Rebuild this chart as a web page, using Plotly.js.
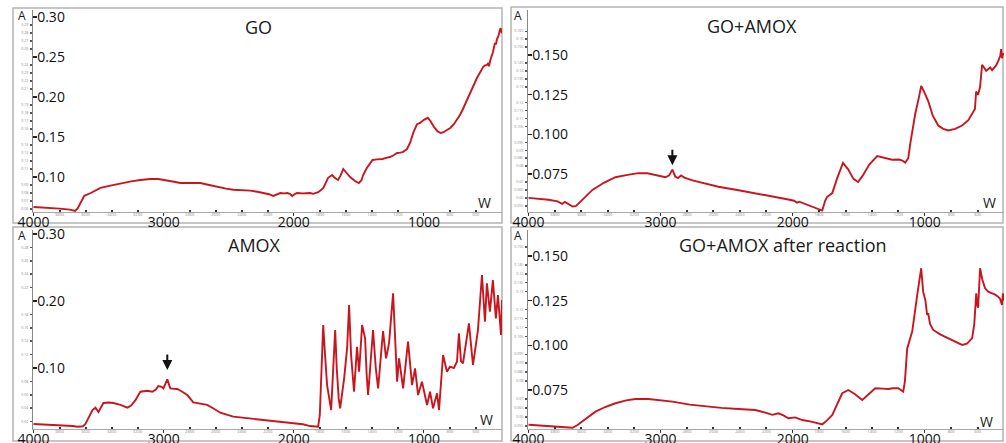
<!DOCTYPE html>
<html>
<head>
<meta charset="utf-8">
<script src="https://cdn.plot.ly/plotly-3.0.1.min.js"></script>
<style>
html,body{margin:0;padding:0;background:#fff;}
#chart{width:1006px;height:443px;}
</style>
</head>
<body>
<div id="chart"></div>
<script>
// ---------- DATA ----------
const panelTitles = ["GO", "GO+AMOX", "AMOX", "GO+AMOX after reaction"];

const goWavenumber = [4000,3900,3800,3720,3680,3660,3640,3610,3560,3486,3400,3332,3250,3180,3102,3040,2972,2920,2872,2800,2718,2650,2588,2520,2465,2400,2335,2280,2235,2190,2158,2130,2104,2075,2050,2030,2012,1990,1974,1930,1874,1851,1812,1774,1750,1736,1705,1685,1660,1640,1620,1600,1567,1530,1500,1480,1467,1440,1414,1395,1360,1318,1290,1260,1230,1206,1180,1160,1130,1107,1080,1053,1030,1000,970,950,920,895,871,850,820,800,770,745,723,700,669,630,592,560,546,530,516,505,500,490,470,454,446,439,428,416,410,405,400];
const goAbsorbance = [0.0625,0.0617,0.0605,0.0592,0.0576,0.0610,0.0680,0.0765,0.0800,0.0865,0.0895,0.0920,0.0945,0.0962,0.0975,0.0975,0.0960,0.0940,0.0925,0.0928,0.0925,0.0900,0.0875,0.0855,0.0840,0.0836,0.0830,0.0815,0.0800,0.0785,0.0763,0.0785,0.0800,0.0795,0.0800,0.0790,0.0763,0.0790,0.0800,0.0795,0.0800,0.0790,0.0810,0.0860,0.0950,0.0990,0.1025,0.0990,0.0963,0.1020,0.1100,0.1060,0.1000,0.0950,0.0925,0.0960,0.1025,0.1110,0.1175,0.1213,0.1220,0.1225,0.1240,0.1250,0.1275,0.1300,0.1305,0.1315,0.1350,0.1425,0.1560,0.1660,0.1675,0.1715,0.1740,0.1700,0.1620,0.1570,0.1550,0.1560,0.1590,0.1610,0.1660,0.1720,0.1775,0.1850,0.1960,0.2100,0.2240,0.2330,0.2375,0.2395,0.2400,0.2425,0.2385,0.2460,0.2560,0.2675,0.2660,0.2720,0.2760,0.2840,0.2860,0.2810,0.2800];

const goAmoxWavenumber = [4000,3900,3849,3780,3745,3725,3700,3666,3640,3607,3560,3516,3430,3342,3250,3168,3100,3039,2963,2935,2911,2889,2867,2845,2820,2759,2660,2563,2420,2283,2150,2033,1990,1968,1950,1880,1820,1776,1755,1740,1700,1665,1619,1580,1540,1505,1470,1420,1360,1300,1247,1195,1170,1148,1125,1110,1072,1045,1027,1000,974,940,898,860,822,770,717,670,634,620,611,596,581,566,550,535,520,505,490,475,460,445,435,428,422,415,408,400];
const goAmoxAbsorbance = [0.0600,0.0594,0.0588,0.0578,0.0562,0.0575,0.0562,0.0545,0.0550,0.0575,0.0615,0.0650,0.0695,0.0730,0.0745,0.0756,0.0755,0.0745,0.0730,0.0742,0.0778,0.0735,0.0725,0.0742,0.0728,0.0710,0.0690,0.0670,0.0650,0.0630,0.0610,0.0590,0.0582,0.0570,0.0576,0.0555,0.0535,0.0520,0.0580,0.0605,0.0630,0.0720,0.0820,0.0780,0.0720,0.0700,0.0740,0.0810,0.0863,0.0850,0.0840,0.0842,0.0835,0.0822,0.0850,0.0940,0.1130,0.1230,0.1306,0.1260,0.1210,0.1120,0.1056,0.1035,0.1025,0.1035,0.1056,0.1090,0.1140,0.1160,0.1270,0.1250,0.1300,0.1438,0.1420,0.1400,0.1410,0.1422,0.1405,0.1420,0.1435,0.1460,0.1475,0.1495,0.1538,0.1480,0.1510,0.1500];

const amoxWavenumber = [4000,3900,3793,3700,3662,3620,3601,3578,3547,3524,3501,3463,3420,3386,3332,3279,3250,3217,3179,3125,3087,3060,3041,3015,3002,2972,2949,2920,2895,2860,2818,2772,2720,2665,2620,2565,2465,2400,2335,2250,2160,2081,2000,1930,1874,1813,1800,1790,1774,1760,1744,1713,1700,1682,1670,1655,1644,1613,1590,1575,1560,1537,1514,1498,1475,1452,1440,1429,1391,1370,1352,1314,1291,1268,1237,1220,1206,1191,1160,1122,1091,1068,1045,1015,976,953,930,899,884,853,823,800,770,746,731,715,700,654,623,585,554,531,516,493,470,447,431,408,400];
const amoxAbsorbance = [0.0164,0.0158,0.0150,0.0135,0.0124,0.0130,0.0164,0.0254,0.0373,0.0408,0.0343,0.0478,0.0485,0.0478,0.0450,0.0408,0.0440,0.0520,0.0646,0.0660,0.0646,0.0680,0.0731,0.0720,0.0697,0.0831,0.0697,0.0690,0.0687,0.0650,0.0597,0.0488,0.0470,0.0450,0.0400,0.0333,0.0274,0.0260,0.0249,0.0230,0.0215,0.0199,0.0180,0.0160,0.0134,0.0124,0.0300,0.0746,0.1642,0.1200,0.0746,0.0373,0.0800,0.1567,0.1000,0.0550,0.0398,0.0846,0.1300,0.1940,0.1200,0.0646,0.1318,0.0945,0.1642,0.1443,0.0900,0.0597,0.1567,0.1000,0.0697,0.1552,0.1144,0.1368,0.2115,0.1300,0.0796,0.1144,0.0697,0.1393,0.0746,0.0995,0.0597,0.0796,0.0448,0.0646,0.0398,0.0622,0.0373,0.1194,0.0945,0.1020,0.1000,0.1094,0.1518,0.1100,0.1070,0.1667,0.1045,0.1567,0.2388,0.1691,0.2264,0.1840,0.2313,0.1742,0.2090,0.1493,0.2015];

const afterWavenumber = [4000,3900,3849,3760,3667,3629,3560,3493,3420,3342,3260,3191,3092,3000,2911,2780,2661,2540,2412,2283,2200,2154,2109,2070,2033,1980,1927,1850,1776,1740,1700,1660,1625,1579,1530,1473,1420,1375,1320,1277,1240,1201,1163,1150,1133,1095,1057,1040,1027,1012,995,982,974,960,936,880,823,770,717,680,641,625,619,610,604,596,581,565,543,520,490,470,445,430,415,408,400];
const afterAbsorbance = [0.0556,0.0552,0.0549,0.0545,0.0539,0.0554,0.0590,0.0629,0.0655,0.0676,0.0692,0.0700,0.0700,0.0694,0.0685,0.0668,0.0657,0.0650,0.0644,0.0638,0.0622,0.0611,0.0620,0.0608,0.0592,0.0597,0.0582,0.0572,0.0558,0.0580,0.0611,0.0680,0.0732,0.0750,0.0728,0.0694,0.0730,0.0760,0.0758,0.0756,0.0760,0.0760,0.0741,0.0800,0.0983,0.1077,0.1282,0.1360,0.1431,0.1300,0.1250,0.1170,0.1180,0.1120,0.1086,0.1060,0.1040,0.1020,0.1002,0.1010,0.1040,0.1120,0.1207,0.1291,0.1230,0.1210,0.1431,0.1370,0.1319,0.1300,0.1291,0.1285,0.1272,0.1260,0.1226,0.1291,0.1250];

// tick labels
const xMajorTicks = [4000, 3000, 2000, 1000];
const xMajorLabels = ["4000", "3000", "2000", "1000"];
const xMinorTicks = [3800,3600,3400,3200,2800,2600,2400,2200,1800,1600,1400,1200,800,600];
const xMinorLabels = ["3800","3600","3400","3200","2800","2600","2400","2200","1800","1600","1400","1200","800","600"];

const goYMajor = [0.10, 0.15, 0.20, 0.25, 0.30];
const goYMajorLabels = ["0.10", "0.15", "0.20", "0.25", "0.30"];
const goYMinor = [0.06,0.07,0.08,0.09,0.11,0.12,0.13,0.14,0.16,0.17,0.18,0.19,0.21,0.22,0.23,0.24,0.26,0.27,0.28,0.29];

const goAmoxYMajor = [0.075, 0.100, 0.125, 0.150];
const goAmoxYMajorLabels = ["0.075", "0.100", "0.125", "0.150"];
const goAmoxYMinor = [0.055,0.060,0.065,0.070,0.080,0.085,0.090,0.095,0.105,0.110,0.115,0.120,0.130,0.135,0.140,0.145,0.155,0.160,0.165];

const amoxYMajor = [0.10, 0.20, 0.30];
const amoxYMajorLabels = ["0.10", "0.20", "0.30"];
const amoxYMinor = [0.02,0.04,0.06,0.08,0.12,0.14,0.16,0.18,0.22,0.24,0.26,0.28];

const afterYMajor = [0.075, 0.100, 0.125, 0.150];
const afterYMajorLabels = ["0.075", "0.100", "0.125", "0.150"];
const afterYMinor = [0.055,0.060,0.065,0.070,0.080,0.085,0.090,0.095,0.105,0.110,0.115,0.120,0.130,0.135,0.140,0.145,0.155];

// ---------- LAYOUT ----------
const W = 1006, H = 443;
const px = x => x / W;
const py = y => 1 - y / H;
const FONT = "Open Sans, Liberation Sans, sans-serif";
const LINE = "#c8161e";
const X_RANGE = [4004, 400];

const panels = [
  {x: goWavenumber, y: goAbsorbance, yMaj: goYMajor, yMajL: goYMajorLabels, yMin: goYMinor,
   xd: [px(33), px(502)], yd: [py(212), py(10)], yr: [0.05625, 0.30875],
   frame: [13, 8, 502, 223], title: [258, 27], A: [22, 15], Wl: [484, 202]},
  {x: goAmoxWavenumber, y: goAmoxAbsorbance, yMaj: goAmoxYMajor, yMajL: goAmoxYMajorLabels, yMin: goAmoxYMinor,
   xd: [px(528), px(1004)], yd: [py(212), py(10)], yr: [0.0511, 0.1784],
   frame: [511, 7, 1003, 223], title: [752, 26], A: [518, 15], Wl: [989, 202]},
  {x: amoxWavenumber, y: amoxAbsorbance, yMaj: amoxYMajor, yMajL: amoxYMajorLabels, yMin: amoxYMinor,
   xd: [px(33), px(502)], yd: [py(429), py(230)], yr: [0.009, 0.306],
   frame: [13, 227, 502, 441], title: [254, 245], A: [22, 235], Wl: [486, 419]},
  {x: afterWavenumber, y: afterAbsorbance, yMaj: afterYMajor, yMajL: afterYMajorLabels, yMin: afterYMinor,
   xd: [px(528), px(1004)], yd: [py(429), py(230)], yr: [0.0532, 0.1645],
   frame: [511, 227, 1003, 441], title: [783, 245], A: [518, 235], Wl: [986, 421]}
];

const data = [];
const layout = {
  width: W, height: H,
  margin: {l: 0, r: 0, t: 0, b: 0},
  paper_bgcolor: "#fff", plot_bgcolor: "rgba(0,0,0,0)",
  showlegend: false,
  font: {family: FONT, color: "#1a1a1a"},
  shapes: [], annotations: []
};

panels.forEach((p, i) => {
  const n = i + 1, m = i + 5;
  const xid = n === 1 ? "x" : "x" + n;
  const yid = n === 1 ? "y" : "y" + n;
  data.push({
    x: p.x, y: p.y, type: "scatter", mode: "lines",
    xaxis: xid, yaxis: yid,
    line: {color: LINE, width: 1.9}, hoverinfo: "skip"
  });
  // helper traces for overlay axes
  data.push({x: [], y: [], type: "scatter", mode: "lines", xaxis: "x" + m, yaxis: yid, hoverinfo: "skip"});
  data.push({x: [], y: [], type: "scatter", mode: "lines", xaxis: xid, yaxis: "y" + m, hoverinfo: "skip"});

  layout["xaxis" + n] = {
    domain: p.xd, anchor: yid, range: X_RANGE, autorange: false,
    showgrid: false, zeroline: false, showline: true, linecolor: "#a8a8a8", linewidth: 1,
    tickmode: "array", tickvals: xMajorTicks, ticktext: xMajorLabels,
    ticks: "outside", ticklen: 3, tickwidth: 1, tickcolor: "#333",
    ticklabelstandoff: -6, ticklabeloverflow: "allow",
    tickfont: {family: FONT, size: 14, color: "#111"}, fixedrange: true
  };
  layout["xaxis" + m] = {
    overlaying: xid, anchor: yid, range: X_RANGE, autorange: false,
    showgrid: false, zeroline: false, showline: false,
    tickmode: "array", tickvals: xMinorTicks, ticktext: xMinorLabels,
    ticks: "inside", ticklen: 2, tickwidth: 2, tickcolor: "#333",
    ticklabelstandoff: -1,
    tickfont: {family: FONT, size: 4, color: "#888"}, fixedrange: true
  };
  layout["yaxis" + n] = {
    domain: p.yd, anchor: xid, range: p.yr, autorange: false,
    showgrid: false, zeroline: false, showline: true, linecolor: "#888", linewidth: 1,
    tickmode: "array", tickvals: p.yMaj, ticktext: p.yMajL,
    ticks: "inside", ticklen: 4, tickwidth: 1.5, tickcolor: "#222",
    ticklabelposition: "inside", ticklabelstandoff: 0, ticklabeloverflow: "allow",
    tickfont: {family: FONT, size: 14, color: "#111"}, fixedrange: true
  };
  layout["yaxis" + m] = {
    overlaying: yid, anchor: xid, side: "left", range: p.yr, autorange: false,
    showgrid: false, zeroline: false, showline: false,
    tickmode: "array", tickvals: p.yMin, ticktext: p.yMin.map(String),
    ticks: "outside", ticklen: 2, tickwidth: 1.5, tickcolor: "#555",
    ticklabelstandoff: 1,
    tickfont: {family: FONT, size: 3.5, color: "#888"}, fixedrange: true
  };

  const f = p.frame;
  layout.shapes.push({
    type: "rect", xref: "paper", yref: "paper",
    x0: px(f[0]), x1: px(f[2]), y0: py(f[3]), y1: py(f[1]),
    line: {color: "#b4b4b4", width: 1.5}, fillcolor: "rgba(0,0,0,0)", layer: "below"
  });
  layout.annotations.push({
    xref: "paper", yref: "paper", x: px(p.title[0]), y: py(p.title[1]),
    xanchor: "center", yanchor: "middle", showarrow: false,
    text: panelTitles[i], font: {family: FONT, size: 18, color: "#1a1a1a"}
  });
  layout.annotations.push({
    xref: "paper", yref: "paper", x: px(p.A[0]), y: py(p.A[1]),
    xanchor: "center", yanchor: "middle", showarrow: false,
    text: "A", font: {family: FONT, size: 12, color: "#1a1a1a"}
  });
  layout.annotations.push({
    xref: "paper", yref: "paper", x: px(p.Wl[0]), y: py(p.Wl[1]),
    xanchor: "center", yanchor: "middle", showarrow: false,
    text: "W", font: {family: FONT, size: 14, color: "#1a1a1a"}
  });
});

// arrows marking the peak near 2900-2970 cm-1
layout.annotations.push({
  xref: "x2", yref: "y2", x: 2911, y: 0.0805, ax: 0, ay: -17,
  showarrow: true, arrowhead: 2, arrowsize: 1, arrowwidth: 2, arrowcolor: "#111", text: ""
});
layout.annotations.push({
  xref: "x3", yref: "y3", x: 2972, y: 0.097, ax: 0, ay: -17,
  showarrow: true, arrowhead: 2, arrowsize: 1, arrowwidth: 2, arrowcolor: "#111", text: ""
});

Plotly.newPlot("chart", data, layout, {displayModeBar: false, staticPlot: true});
</script>
</body>
</html>
